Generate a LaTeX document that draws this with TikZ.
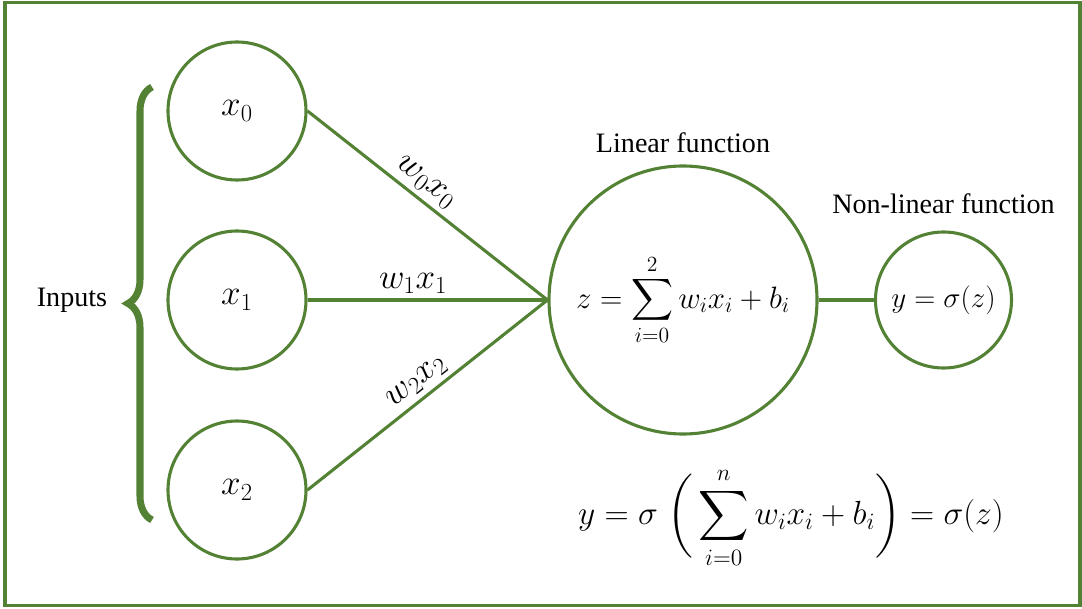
\documentclass[tikz,border=0pt]{standalone}
\usepackage{fix-cm}
\usepackage{amsmath}
\usepackage{fontspec}
\setmainfont{Liberation Serif}
\usepackage{tikz}
\usetikzlibrary{positioning, decorations.pathreplacing}

\definecolor{leaf}{RGB}{84,130,53}
\newcommand{\mathsz}{\fontsize{25}{30}\selectfont}
\newcommand{\textsz}{\fontsize{20}{24}\selectfont}

\begin{document}
\begin{tikzpicture}[
    neuron/.style={draw=leaf, circle, line width=2.2pt, inner sep=0pt, font=\mathsz},
    edge/.style={draw=leaf, line width=2.2pt},
    wlabel/.style={above, sloped, font=\mathsz},
    caption/.style={font=\textsz, inner sep=2pt}
]
    % Frame
    \useasboundingbox (0,0) rectangle (27.05,15.2);
    \draw[leaf, line width=2.8pt] (0.125,0.0625) rectangle (27.0,15.1375);

    % Inputs
    \node[neuron, minimum size=3.45cm] (x0) at (5.925,12.425) {$x_0$};
    \node[neuron, minimum size=3.45cm] (x1) at (5.925,7.7) {$x_1$};
    \node[neuron, minimum size=3.45cm] (x2) at (5.925,2.95) {$x_2$};

    \coordinate (bracebot) at (3.8,2.2);
    \coordinate (bracetop) at (3.8,13.025);
    \draw[leaf, line width=5pt, decorate, decoration={brace, amplitude=0.6cm}] (bracebot) -- (bracetop);
    \node[caption] (inputs) at (1.8,7.7) {Inputs};

    % Functions
    \node[neuron, minimum size=6.7cm, font=\fontsize{22}{26}\selectfont] (linear) at (17.075,7.7) {$\displaystyle z=\sum_{i=0}^{2} w_i x_i + b_i$};
    \node[neuron, minimum size=3.4cm, font=\fontsize{20.7}{25}\selectfont] (nonlinear) at (23.5875,7.7) {$y=\sigma(z)$};
    \node[caption, above=0.22cm of linear] (linlabel) {Linear function};
    \node[caption, above=0.33cm of nonlinear] (nonlinlabel) {Non-linear function};

    % Connections
    \draw[edge] (x0.east) -- node[wlabel, pos=0.45] {$w_0x_0$} (linear.west);
    \draw[edge] (x1.east) -- node[wlabel, pos=0.44] {$w_1x_1$} (linear.west);
    \draw[edge] (x2.east) -- node[wlabel, pos=0.5] {$w_2x_2$} (linear.west);
    \draw[edge] (linear.east) -- (nonlinear.west);

    % Output
    \node[font=\fontsize{23.8}{28}\selectfont] (output) at (19.775,2.25) {$\displaystyle y=\sigma\;\bigg(\sum_{i=0}^{n} w_i x_i + b_i\bigg)=\sigma(z)$};

\end{tikzpicture}
\end{document}
